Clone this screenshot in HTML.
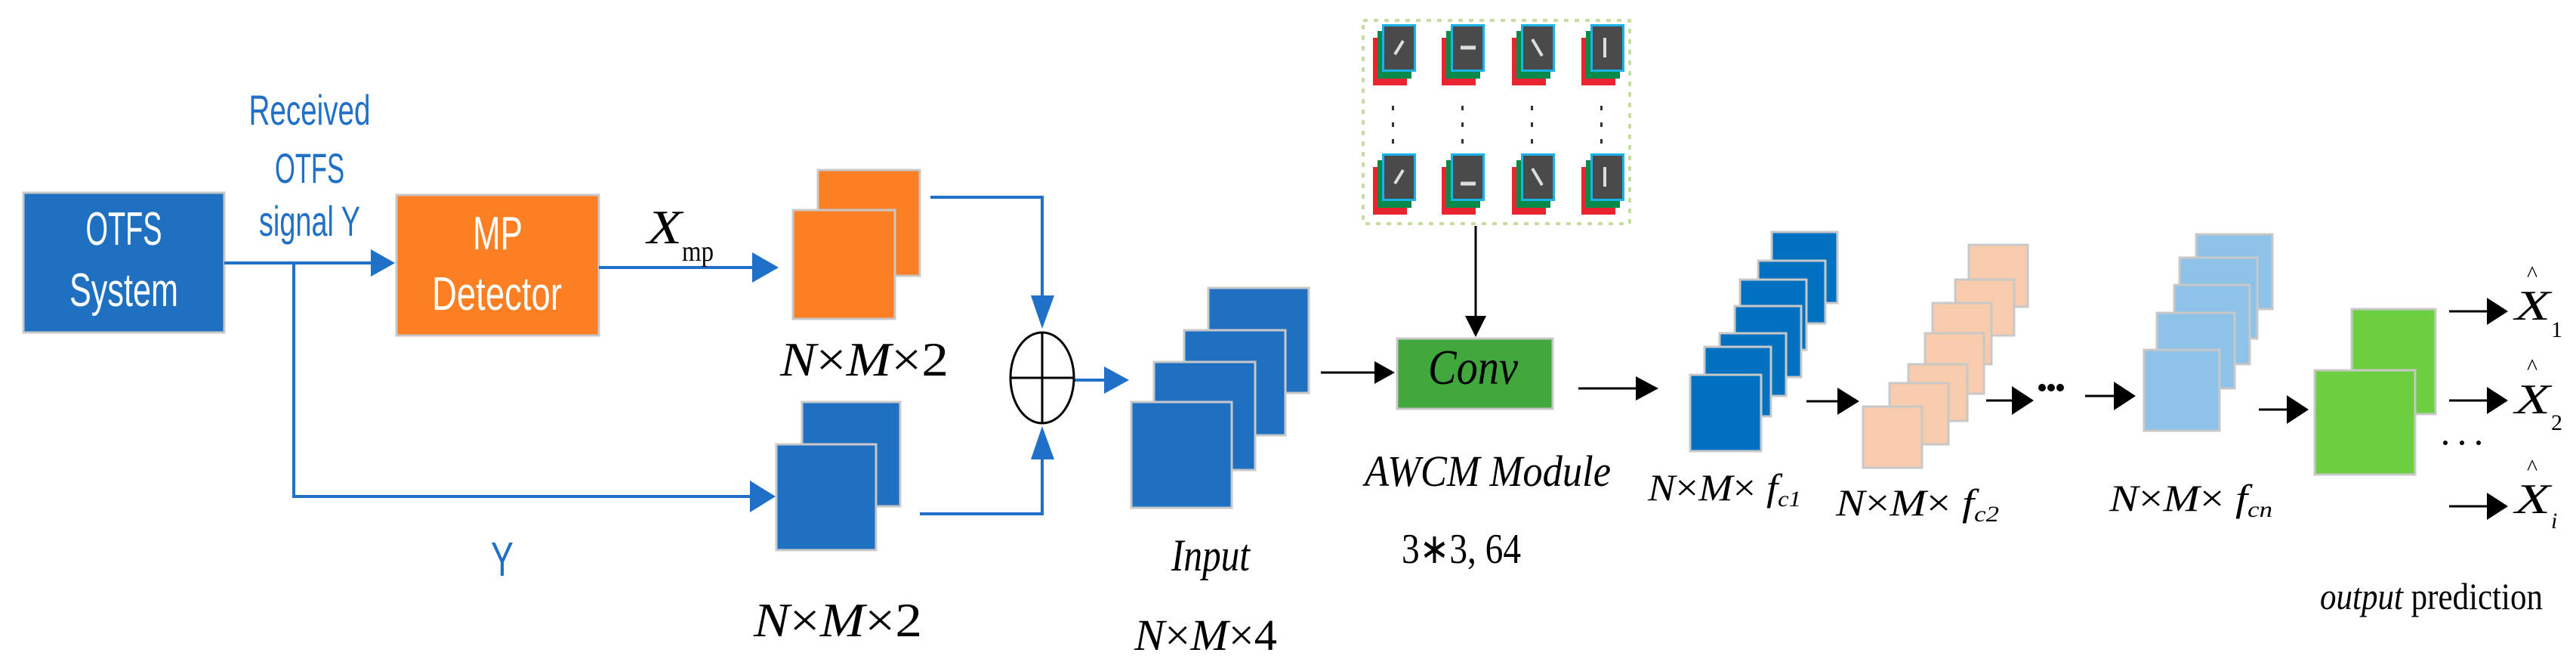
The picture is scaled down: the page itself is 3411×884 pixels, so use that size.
<!DOCTYPE html>
<html><head><meta charset="utf-8"><style>
html,body{margin:0;padding:0;background:#fff;width:3411px;height:884px;overflow:hidden}
svg{display:block}
.s{font-family:"Liberation Sans",sans-serif}
.m{font-family:"Liberation Serif",serif;font-style:italic}
.r{font-family:"Liberation Serif",serif}
</style></head><body>
<svg width="3411" height="884" viewBox="0 0 3411 884" xmlns="http://www.w3.org/2000/svg">
<defs>
<g id="ic"><rect x="-12" y="18" width="45" height="63" fill="#e8252f"/><rect x="-6" y="9" width="45" height="63" fill="#0a8a4a"/><rect x="0" y="0" width="45" height="63" fill="#1ab3e8"/><rect x="3" y="3" width="39" height="57" fill="#4a4a4a"/></g>
</defs>
<!-- OTFS -->
<rect x="31" y="255" width="266" height="185" fill="#1F70C1" stroke="#c8c8c8" stroke-width="3"/>
<text class="s" x="164" y="324" font-size="62" fill="#fff" text-anchor="middle" textLength="101" lengthAdjust="spacingAndGlyphs">OTFS</text>
<text class="s" x="164" y="405" font-size="62" fill="#fff" text-anchor="middle" textLength="144" lengthAdjust="spacingAndGlyphs">System</text>
<!-- MP -->
<rect x="525" y="258" width="268" height="186" fill="#FD7F23" stroke="#c8c8c8" stroke-width="3"/>
<text class="s" x="659" y="330" font-size="62" fill="#fff" text-anchor="middle" textLength="66" lengthAdjust="spacingAndGlyphs">MP</text>
<text class="s" x="658" y="410" font-size="62" fill="#fff" text-anchor="middle" textLength="172" lengthAdjust="spacingAndGlyphs">Detector</text>
<!-- received -->
<g class="s" fill="#2070c8" font-size="56" text-anchor="middle">
<text x="410" y="165" textLength="161" lengthAdjust="spacingAndGlyphs">Received</text>
<text x="410" y="242" textLength="92" lengthAdjust="spacingAndGlyphs">OTFS</text>
<text x="410" y="312" textLength="134" lengthAdjust="spacingAndGlyphs">signal Y</text>
<text x="665" y="762" font-size="64" textLength="30" lengthAdjust="spacingAndGlyphs">Y</text>
</g>
<!-- blue connectors -->
<g stroke="#2070c8" stroke-width="4" fill="none">
<path d="M297 348 H495"/><path d="M389 348 V657 H995"/>
<path d="M793 354 H1000"/>
<path d="M1232 261 H1380 V395"/><path d="M1218 680 H1380 V600"/>
<path d="M1423 503 H1465"/>
</g>
<g fill="#2070c8">
<polygon points="491,330 523,348 491,366"/>
<polygon points="996,334 1031,354 996,374"/>
<polygon points="993,636 1027,657 993,678"/>
<polygon points="1365,391 1396,391 1380,435"/>
<polygon points="1365,608 1396,608 1380,564"/>
<polygon points="1462,485 1495,503 1462,521"/>
</g>
<text class="m" x="857" y="322" font-size="64" textLength="46" lengthAdjust="spacingAndGlyphs">X</text>
<text class="r" x="903" y="345" font-size="38" textLength="42" lengthAdjust="spacingAndGlyphs">mp</text>
<!-- orange squares -->
<g stroke="#c8c8c8" stroke-width="3">
<rect x="1083" y="225" width="135" height="140" fill="#FD7F23"/>
<rect x="1050" y="278" width="135" height="144" fill="#FD7F23"/>
<rect x="1062" y="532" width="130" height="138" fill="#1F70C1"/>
<rect x="1028" y="588" width="132" height="140" fill="#1F70C1"/>
</g>
<text class="m" x="1033" y="497" font-size="64" textLength="223" lengthAdjust="spacingAndGlyphs">N<tspan font-style="normal">×</tspan>M<tspan font-style="normal">×2</tspan></text>
<text class="m" x="998" y="842" font-size="64" textLength="223" lengthAdjust="spacingAndGlyphs">N<tspan font-style="normal">×</tspan>M<tspan font-style="normal">×2</tspan></text>
<!-- circle -->
<ellipse cx="1380" cy="500" rx="42" ry="60" fill="#fff" stroke="#000" stroke-width="3"/>
<path d="M1338 500 H1422 M1380 440 V560" stroke="#000" stroke-width="3"/>
<!-- input -->
<g stroke="#c8c8c8" stroke-width="3" fill="#1F70C1">
<rect x="1600" y="381" width="133" height="139"/>
<rect x="1568" y="437" width="134" height="139"/>
<rect x="1528" y="479" width="134" height="143"/>
<rect x="1498" y="532" width="133" height="140"/>
</g>
<text class="m" x="1551" y="755" font-size="60" textLength="104" lengthAdjust="spacingAndGlyphs">Input</text>
<text class="m" x="1502" y="860" font-size="58" textLength="189" lengthAdjust="spacingAndGlyphs">N<tspan font-style="normal">×</tspan>M<tspan font-style="normal">×4</tspan></text>
<!-- black arrows -->
<g stroke="#000" stroke-width="3" fill="none">
<path d="M1749 493 H1822"/><path d="M1954 299 V420"/><path d="M2090 514 H2168"/>
<path d="M2392 531 H2440"/><path d="M2630 530 H2670"/><path d="M2761 524 H2805"/>
<path d="M2991 542 H3035"/><path d="M3243 412 H3300"/><path d="M3243 530 H3300"/><path d="M3243 670 H3300"/>
</g>
<g fill="#000">
<polygon points="1820,478 1847,493 1820,508"/>
<polygon points="1940,418 1968,418 1954,446"/>
<polygon points="2166,498 2196,514 2166,530"/>
<polygon points="2433,513 2462,531 2433,549"/>
<polygon points="2664,511 2693,530 2664,549"/>
<polygon points="2799,505 2828,524 2799,543"/>
<polygon points="3028,523 3057,542 3028,561"/>
<polygon points="3293,394 3321,412 3293,430"/>
<polygon points="3293,512 3321,530 3293,548"/>
<polygon points="3293,652 3321,670 3293,688"/>
<circle cx="2704" cy="513" r="5"/><circle cx="2716" cy="513" r="5"/><circle cx="2728" cy="513" r="5"/>
<circle cx="3238" cy="586" r="3"/><circle cx="3260" cy="586" r="3"/><circle cx="3282" cy="586" r="3"/>
</g>
<!-- conv -->
<rect x="1850" y="448" width="206" height="93" fill="#40A83C" stroke="#c8c8c8" stroke-width="3"/>
<text class="m" x="1891" y="508" font-size="66" textLength="119" lengthAdjust="spacingAndGlyphs">Conv</text>
<text class="m" x="1807" y="643" font-size="58" textLength="326" lengthAdjust="spacingAndGlyphs">AWCM  Module</text>
<text class="r" x="1856" y="745" font-size="56" textLength="158" lengthAdjust="spacingAndGlyphs">3∗3, 64</text>
<!-- filter bank -->
<rect x="1805" y="27" width="353" height="269" fill="none" stroke="#c6dca0" stroke-width="4" stroke-dasharray="6,8"/>
<g>
<use href="#ic" x="1830" y="32"/><use href="#ic" x="1921" y="32"/><use href="#ic" x="2014" y="32"/><use href="#ic" x="2106" y="32"/>
<use href="#ic" x="1830" y="203"/><use href="#ic" x="1921" y="203"/><use href="#ic" x="2014" y="203"/><use href="#ic" x="2106" y="203"/>
</g>
<g stroke="#ddd" stroke-width="4">
<path d="M1847 72 L1858 54 M1847 243 L1858 225"/>
<path d="M1934 63 H1954 M1934 243 H1954" stroke-width="5"/>
<path d="M2029 52 L2042 74 M2029 223 L2042 245"/>
<path d="M2125 50 V76 M2125 221 V247"/>
</g>
<g fill="#333">
<rect x="1843" y="140" width="3" height="6"/><rect x="1843" y="162" width="3" height="6"/><rect x="1843" y="184" width="3" height="6"/>
<rect x="1935" y="140" width="3" height="6"/><rect x="1935" y="162" width="3" height="6"/><rect x="1935" y="184" width="3" height="6"/>
<rect x="2027" y="140" width="3" height="6"/><rect x="2027" y="162" width="3" height="6"/><rect x="2027" y="184" width="3" height="6"/>
<rect x="2119" y="140" width="3" height="6"/><rect x="2119" y="162" width="3" height="6"/><rect x="2119" y="184" width="3" height="6"/>
</g>
<!-- stack 1 -->
<g stroke="#c8c8c8" stroke-width="3" fill="#0070C0">
<rect x="2346" y="307" width="87" height="94"/>
<rect x="2328" y="345" width="89" height="83"/>
<rect x="2304" y="370" width="88" height="93"/>
<rect x="2297" y="405" width="88" height="94"/>
<rect x="2277" y="441" width="88" height="83"/>
<rect x="2257" y="459" width="88" height="92"/>
<rect x="2238" y="496" width="94" height="101"/>
</g>
<text class="m" x="2182" y="662" font-size="50" textLength="203" lengthAdjust="spacingAndGlyphs">N<tspan font-style="normal">×</tspan>M<tspan font-style="normal">×</tspan> f<tspan font-size="30" dy="8">c1</tspan></text>
<!-- peach -->
<g stroke="#c8c8c8" stroke-width="3" fill="#F8CBAD">
<rect x="2607" y="324" width="78" height="82"/>
<rect x="2589" y="370" width="78" height="74"/>
<rect x="2559" y="401" width="78" height="81"/>
<rect x="2549" y="441" width="78" height="80"/>
<rect x="2527" y="482" width="78" height="75"/>
<rect x="2502" y="507" width="78" height="81"/>
<rect x="2467" y="538" width="78" height="81"/>
</g>
<text class="m" x="2431" y="682" font-size="50" textLength="216" lengthAdjust="spacingAndGlyphs">N<tspan font-style="normal">×</tspan>M<tspan font-style="normal">×</tspan> f<tspan font-size="30" dy="8">c2</tspan></text>
<!-- light blue -->
<g stroke="#c8c8c8" stroke-width="3" fill="#8EC2E8">
<rect x="2908" y="310" width="101" height="99"/>
<rect x="2886" y="341" width="103" height="107"/>
<rect x="2879" y="377" width="100" height="105"/>
<rect x="2856" y="414" width="103" height="100"/>
<rect x="2839" y="463" width="100" height="107"/>
</g>
<text class="m" x="2793" y="676" font-size="50" textLength="216" lengthAdjust="spacingAndGlyphs">N<tspan font-style="normal">×</tspan>M<tspan font-style="normal">×</tspan> f<tspan font-size="30" dy="8">cn</tspan></text>
<!-- green out -->
<g stroke="#c8c8c8" stroke-width="3" fill="#6CCF3F">
<rect x="3114" y="409" width="111" height="139"/>
<rect x="3065" y="490" width="133" height="138"/>
</g>
<g class="m" font-size="56">
<text x="3330" y="423" textLength="47" lengthAdjust="spacingAndGlyphs">X</text>
<text x="3330" y="547" textLength="47" lengthAdjust="spacingAndGlyphs">X</text>
<text x="3330" y="679" textLength="47" lengthAdjust="spacingAndGlyphs">X</text>
</g>
<g class="r" font-size="30">
<text x="3346" y="372">^</text><text x="3346" y="495">^</text><text x="3346" y="628">^</text>
<text x="3378" y="446">1</text><text x="3378" y="569">2</text><text class="m" x="3378" y="699">i</text>
</g>
<text class="r" x="3072" y="806" font-size="50" textLength="295" lengthAdjust="spacingAndGlyphs"><tspan font-style="italic">output</tspan> prediction</text>
</svg>
</body></html>
